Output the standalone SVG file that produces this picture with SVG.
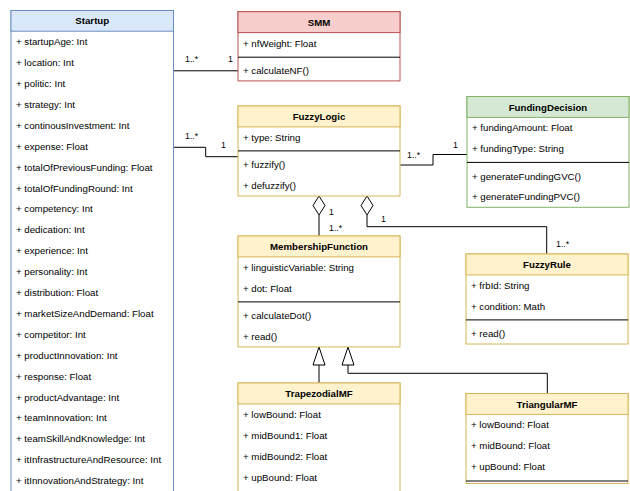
<svg xmlns="http://www.w3.org/2000/svg" width="630" height="491" viewBox="0 0 630 491">
<defs>
<style>
text{font-family:"Liberation Sans",Arial,sans-serif;fill:#000}
.t{font-size:9.7px}
.h{font-size:9.7px;font-weight:bold;text-anchor:middle}
.l{font-size:8.8px}
.box{fill:#fff}
.sep{stroke:#000;stroke-width:1}
.blue{stroke:#6c8ebf}
.bluef{fill:#dae8fc;stroke:#6c8ebf}
.red{stroke:#b85450}
.redf{fill:#f8cecc;stroke:#b85450}
.yel{stroke:#d6b656}
.yelf{fill:#fff2cc;stroke:#d6b656}
.grn{stroke:#82b366}
.grnf{fill:#d5e8d4;stroke:#82b366}
.c{fill:none;stroke:#000;stroke-width:1}
.dia{fill:#fff;stroke:#000;stroke-width:1}
</style>
</defs>
<rect width="630" height="491" fill="#fff"/>

<g id="connectors">
<path class="c" d="M173.5,70.8H238"/>
<path class="c" d="M173.5,147.3H205.7V156.7H238"/>
<path class="c" d="M400,165H433V154.5H467"/>
<path class="c" d="M319,215V236"/>
<polygon class="dia" points="319,196 325,205.5 319,215 313,205.5"/>
<path class="c" d="M367,215V226.7H546.7V254"/>
<polygon class="dia" points="367,196 373,205.5 367,215 361,205.5"/>
<path class="c" d="M319,365V383"/>
<polygon class="dia" points="319,347 325,365 313,365"/>
<path class="c" d="M348,365V373.3H547.3V393.5"/>
<polygon class="dia" points="348,347 354,365 342,365"/>
<text class="l" x="185" y="62">1..*</text>
<text class="l" x="228" y="62">1</text>
<text class="l" x="185" y="139">1..*</text>
<text class="l" x="221" y="148">1</text>
<text class="l" x="407" y="158">1..*</text>
<text class="l" x="453" y="148">1</text>
<text class="l" x="329" y="214.5">1</text>
<text class="l" x="329" y="231">1..*</text>
<text class="l" x="381" y="222">1</text>
<text class="l" x="556" y="247">1..*</text>
</g>

<g id="Startup">
<rect class="box blue" x="11" y="10.5" width="162.5" height="500"/>
<rect class="bluef" x="11" y="10.5" width="162.5" height="20.7"/>
<text class="h" x="92.25" y="24.3">Startup</text>
<text class="t" x="16" y="45.2">+ startupAge: Int</text>
<text class="t" x="16" y="66.1">+ location: Int</text>
<text class="t" x="16" y="87">+ politic: Int</text>
<text class="t" x="16" y="107.9">+ strategy: Int</text>
<text class="t" x="16" y="128.8">+ continousInvestment: Int</text>
<text class="t" x="16" y="149.7">+ expense: Float</text>
<text class="t" x="16" y="170.6">+ totalOfPreviousFunding: Float</text>
<text class="t" x="16" y="191.5">+ totalOfFundingRound: Int</text>
<text class="t" x="16" y="212.4">+ competency: Int</text>
<text class="t" x="16" y="233.3">+ dedication: Int</text>
<text class="t" x="16" y="254.2">+ experience: Int</text>
<text class="t" x="16" y="275.1">+ personality: Int</text>
<text class="t" x="16" y="296">+ distribution: Float</text>
<text class="t" x="16" y="316.9">+ marketSizeAndDemand: Float</text>
<text class="t" x="16" y="337.8">+ competitor: Int</text>
<text class="t" x="16" y="358.7">+ productInnovation: Int</text>
<text class="t" x="16" y="379.6">+ response: Float</text>
<text class="t" x="16" y="400.5">+ productAdvantage: Int</text>
<text class="t" x="16" y="421.4">+ teamInnovation: Int</text>
<text class="t" x="16" y="442.3">+ teamSkillAndKnowledge: Int</text>
<text class="t" x="16" y="463.2">+ itInfrastructureAndResource: Int</text>
<text class="t" x="16" y="484.1">+ itInnovationAndStrategy: Int</text>
</g>

<g id="SMM">
<rect class="box red" x="238" y="11.7" width="162" height="69.2"/>
<rect class="redf" x="238" y="11.7" width="162" height="20.9"/>
<text class="h" x="319" y="25.6">SMM</text>
<text class="t" x="243" y="46.5">+ nfWeight: Float</text>
<line class="sep" x1="238" y1="57.2" x2="400" y2="57.2"/>
<text class="t" x="243" y="74.3">+ calculateNF()</text>
</g>

<g id="FuzzyLogic">
<rect class="box yel" x="238" y="106" width="162" height="90"/>
<rect class="yelf" x="238" y="106" width="162" height="20.9"/>
<text class="h" x="319" y="120">FuzzyLogic</text>
<text class="t" x="243" y="140.8">+ type: String</text>
<line class="sep" x1="238" y1="150.9" x2="400" y2="150.9"/>
<text class="t" x="243" y="168">+ fuzzify()</text>
<text class="t" x="243" y="189">+ defuzzify()</text>
</g>

<g id="FundingDecision">
<rect class="box grn" x="467" y="96.5" width="162" height="110.8"/>
<rect class="grnf" x="467" y="96.5" width="162" height="20.9"/>
<text class="h" x="548" y="110.5">FundingDecision</text>
<text class="t" x="472" y="131.4">+ fundingAmount: Float</text>
<text class="t" x="472" y="152.3">+ fundingType: String</text>
<line class="sep" x1="467" y1="162.4" x2="629" y2="162.4"/>
<text class="t" x="472" y="179.5">+ generateFundingGVC()</text>
<text class="t" x="472" y="200.4">+ generateFundingPVC()</text>
</g>

<g id="MembershipFunction">
<rect class="box yel" x="238" y="236" width="162" height="110.9"/>
<rect class="yelf" x="238" y="236" width="162" height="20.9"/>
<text class="h" x="319" y="250">MembershipFunction</text>
<text class="t" x="243" y="270.9">+ linguisticVariable: String</text>
<text class="t" x="243" y="291.8">+ dot: Float</text>
<line class="sep" x1="238" y1="301.9" x2="400" y2="301.9"/>
<text class="t" x="243" y="319.1">+ calculateDot()</text>
<text class="t" x="243" y="340">+ read()</text>
</g>

<g id="FuzzyRule">
<rect class="box yel" x="466" y="254" width="162" height="90"/>
<rect class="yelf" x="466" y="254" width="162" height="20.9"/>
<text class="h" x="547" y="268">FuzzyRule</text>
<text class="t" x="471" y="288.9">+ frbId: String</text>
<text class="t" x="471" y="309.8">+ condition: Math</text>
<line class="sep" x1="466" y1="319.9" x2="628" y2="319.9"/>
<text class="t" x="471" y="337.1">+ read()</text>
</g>

<g id="TrapezodialMF">
<rect class="box yel" x="238" y="383" width="162" height="140"/>
<rect class="yelf" x="238" y="383" width="162" height="20.9"/>
<text class="h" x="319" y="397">TrapezodialMF</text>
<text class="t" x="243" y="417.9">+ lowBound: Float</text>
<text class="t" x="243" y="438.8">+ midBound1: Float</text>
<text class="t" x="243" y="459.7">+ midBound2: Float</text>
<text class="t" x="243" y="480.6">+ upBound: Float</text>
</g>

<g id="TriangularMF">
<rect class="box yel" x="466" y="393.5" width="162" height="90"/>
<rect class="yelf" x="466" y="393.5" width="162" height="20.9"/>
<text class="h" x="547" y="407.5">TriangularMF</text>
<text class="t" x="471" y="428.4">+ lowBound: Float</text>
<text class="t" x="471" y="449.3">+ midBound: Float</text>
<text class="t" x="471" y="470.2">+ upBound: Float</text>
<line class="sep" x1="466" y1="481" x2="628" y2="481"/>
</g>
</svg>
